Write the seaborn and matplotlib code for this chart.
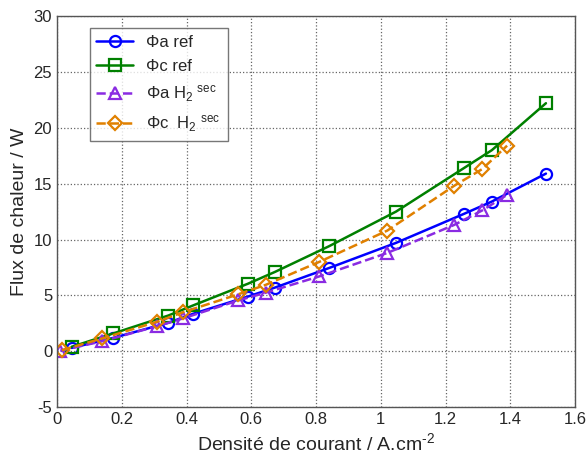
import pandas as pd
import matplotlib
matplotlib.use("Agg")
import matplotlib.pyplot as plt
import seaborn as sns

# Data
x_a_ref = [0.045, 0.174, 0.344, 0.42, 0.59, 0.673, 0.84, 1.047, 1.257, 1.343, 1.51]
y_a_ref = [0.3, 1.2, 2.55, 3.35, 4.9, 5.7, 7.45, 9.7, 12.3, 13.4, 15.9]

x_c_ref = [0.045, 0.174, 0.344, 0.42, 0.59, 0.673, 0.84, 1.047, 1.257, 1.343, 1.51]
y_c_ref = [0.4, 1.6, 3.2, 4.1, 6.05, 7.1, 9.4, 12.5, 16.4, 18.0, 22.2]

x_a_sec = [0.01, 0.14, 0.31, 0.39, 0.56, 0.645, 0.81, 1.02, 1.226, 1.313, 1.39]
y_a_sec = [0.05, 0.9, 2.25, 2.95, 4.55, 5.25, 6.7, 8.8, 11.3, 12.6, 14.0]

x_c_sec = [0.015, 0.14, 0.31, 0.39, 0.56, 0.645, 0.81, 1.02, 1.226, 1.313, 1.39]
y_c_sec = [0.1, 1.15, 2.65, 3.5, 5.1, 5.95, 8.0, 10.8, 14.8, 16.3, 18.4]

sns.set_style("white")
plt.rcParams["font.family"] = ["Liberation Sans", "DejaVu Sans"]
plt.rcParams["mathtext.fontset"] = "custom"
plt.rcParams["mathtext.rm"] = "Liberation Sans"
plt.rcParams["mathtext.it"] = "Liberation Sans"
plt.rcParams["axes.unicode_minus"] = False

fig = plt.figure(figsize=(5.88, 4.59), dpi=100)
ax = fig.add_axes([0.097, 0.113, 0.881, 0.852])

series = [
    (x_a_ref, y_a_ref, "Φa ref", "#0000ff", "o", "-"),
    (x_c_ref, y_c_ref, "Φc ref", "#008000", "s", "-"),
    (x_a_sec, y_a_sec, "Φa H$_2$ $^{\\rm sec}$", "#8a2be2", "^", "--"),
    (x_c_sec, y_c_sec, "Φc  H$_2$ $^{\\rm sec}$", "#e08000", "D", "--"),
]

for xs, ys, lab, col, mk, ls in series:
    sns.lineplot(x=xs, y=ys, ax=ax, label=lab, color=col, marker=mk,
                 linestyle=ls, linewidth=1.8, markersize=8 if mk != "D" else 7.5,
                 markerfacecolor="none", markeredgecolor=col,
                 markeredgewidth=1.6, sort=False, estimator=None)

ax.set_xlim(0, 1.6)
ax.set_ylim(-5, 30)
ax.set_xticks([0, 0.2, 0.4, 0.6, 0.8, 1, 1.2, 1.4, 1.6])
ax.set_xticklabels(["0", "0.2", "0.4", "0.6", "0.8", "1", "1.2", "1.4", "1.6"])
ax.set_yticks([-5, 0, 5, 10, 15, 20, 25, 30])
ax.set_yticklabels(["-5", "0", "5", "10", "15", "20", "25", "30"])
ax.tick_params(direction="in", labelsize=12, length=4, color="#555555")
ax.grid(True, linestyle=":", color="#666666", linewidth=0.9)
for sp in ax.spines.values():
    sp.set_color("#555555")
    sp.set_linewidth(1.0)

ax.set_xlabel("Densité de courant / A.cm$^{\\text{-2}}$", fontsize=14)
ax.set_ylabel("Flux de chaleur / W", fontsize=14)

leg = ax.legend(loc="upper left", bbox_to_anchor=(0.047, 0.99), fontsize=12,
                frameon=True, fancybox=False, edgecolor="#555555",
                handlelength=2.2, borderpad=0.4, labelspacing=0.55)
leg.get_frame().set_linewidth(1.0)

fig.savefig("out.png", dpi=100)
